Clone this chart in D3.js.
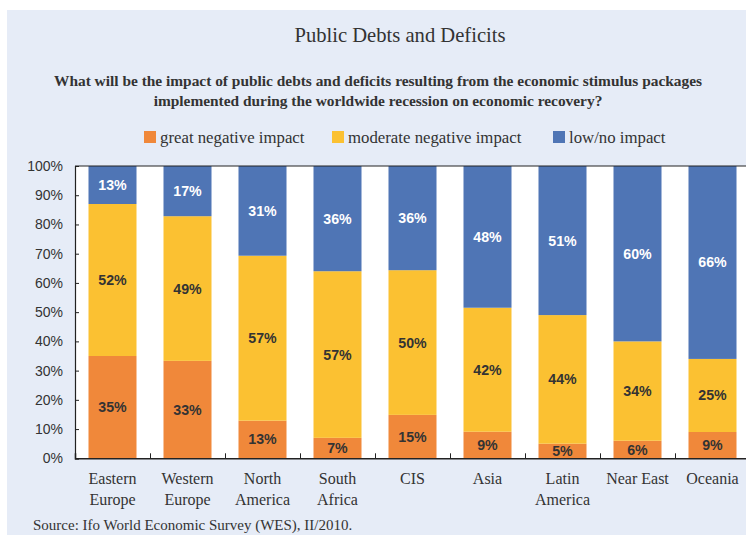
<!DOCTYPE html>
<html><head><meta charset="utf-8">
<script src="https://cdn.jsdelivr.net/npm/d3@7"></script>
<style>body{margin:0;background:#fff}svg{display:block}</style>
</head><body>
<script>
const categories = [["Eastern","Europe"],["Western","Europe"],["North","America"],["South","Africa"],["CIS"],["Asia"],["Latin","America"],["Near East"],["Oceania"]];
const seriesNames = ["great negative impact","moderate negative impact","low/no impact"];
const great = [35,33,13,7,15,9,5,6,9];
const moderate = [52,49,57,57,50,42,44,34,25];
const low = [13,17,31,36,36,48,51,60,66];
const yTicks = [0,0.1,0.2,0.3,0.4,0.5,0.6,0.7,0.8,0.9,1];
const colors = ["#F0883A","#FBC132","#4F75B5"];
const labelColors = ["#333333","#333333","#ffffff"];

const W=746,H=535;
const svg=d3.select("body").append("svg").attr("width",W).attr("height",H);
svg.append("rect").attr("x",7).attr("y",10).attr("width",W).attr("height",H).attr("fill","#E6ECF7");

const serif="Liberation Serif, Times New Roman, serif";
const sans="Liberation Sans, Arial, sans-serif";
svg.append("text").attr("x",400).attr("y",42).attr("text-anchor","middle").attr("font-family",serif).attr("font-size",20.6).attr("fill","#333").text("Public Debts and Deficits");
const sub=["What will be the impact of public debts and deficits resulting from the economic stimulus packages","implemented during the worldwide recession on economic recovery?"];
sub.forEach((s,i)=>svg.append("text").attr("x",378).attr("y",86+i*20).attr("text-anchor","middle").attr("font-family",serif).attr("font-weight","bold").attr("font-size",15.4).attr("fill","#333").text(s));

const legX=[144,332,553];
seriesNames.forEach((n,i)=>{
  svg.append("rect").attr("x",legX[i]).attr("y",131).attr("width",12).attr("height",12).attr("fill",colors[i]);
  svg.append("text").attr("x",legX[i]+16).attr("y",143).attr("font-family",serif).attr("font-size",16.8).attr("fill","#333").text(n);
});

const x0=75, plotTop=166, plotBot=458.3;
const x=d3.scaleBand().domain(d3.range(categories.length)).range([x0,x0+75*categories.length]).paddingInner(0.36).paddingOuter(0.18);
const y=d3.scaleLinear().domain([0,1]).range([plotBot,plotTop]);

svg.append("rect").attr("x",x0).attr("y",plotTop).attr("width",W-x0).attr("height",plotBot-plotTop).attr("fill","#fff");

const rows=categories.map((c,i)=>({i,g:great[i],m:moderate[i],l:low[i]}));
const stack=d3.stack().keys(["g","m","l"]).offset(d3.stackOffsetExpand);
const st=stack(rows);
st.forEach((layer,k)=>{
  const g=svg.append("g");
  g.selectAll("rect").data(layer).enter().append("rect")
   .attr("x",d=>x(d.data.i)).attr("width",x.bandwidth())
   .attr("y",d=>y(d[1])).attr("height",d=>y(d[0])-y(d[1]))
   .attr("fill",colors[k]);
  g.selectAll("text").data(layer).enter().append("text")
   .attr("x",d=>x(d.data.i)+x.bandwidth()/2)
   .attr("y",d=>(y(d[0])+y(d[1]))/2+5)
   .attr("text-anchor","middle").attr("font-family",sans).attr("font-weight","bold").attr("font-size",14.2)
   .attr("fill",labelColors[k])
   .text(d=>d.data[["g","m","l"][k]]+"%");
});

const yAxis=d3.axisLeft(y).tickValues(yTicks).tickFormat(d3.format(".0%")).tickSize(-4).tickPadding(12);
const ya=svg.append("g").attr("transform",`translate(${x0},0)`).call(yAxis);
ya.select(".domain").attr("stroke","#222").attr("stroke-width",1.2);
ya.selectAll("line").attr("stroke","#222");
ya.selectAll("text").attr("font-family",sans).attr("font-size",14).attr("fill","#333");

const xb=d3.scaleLinear().domain([0,categories.length]).range([x0,x0+75*categories.length]);
const xa=svg.append("g").attr("transform",`translate(0,${plotBot})`).call(d3.axisBottom(xb).tickValues(d3.range(1,categories.length)).tickSize(-5).tickFormat(""));
xa.select(".domain").attr("stroke","#222").attr("stroke-width",1.5);
xa.selectAll("line").attr("stroke","#222");
svg.append("line").attr("x1",x0).attr("x2",W).attr("y1",plotTop).attr("y2",plotTop).attr("stroke","#222");

categories.forEach((c,i)=>{
  const cx=x(i)+x.bandwidth()/2;
  c.forEach((line,j)=>svg.append("text").attr("x",cx).attr("y",484+j*21).attr("text-anchor","middle").attr("font-family",serif).attr("font-size",16).attr("fill","#333").text(line));
});

svg.append("text").attr("x",33).attr("y",530).attr("font-family",serif).attr("font-size",15).attr("fill","#333").text("Source: Ifo World Economic Survey (WES), II/2010.");
</script>
</body></html>
